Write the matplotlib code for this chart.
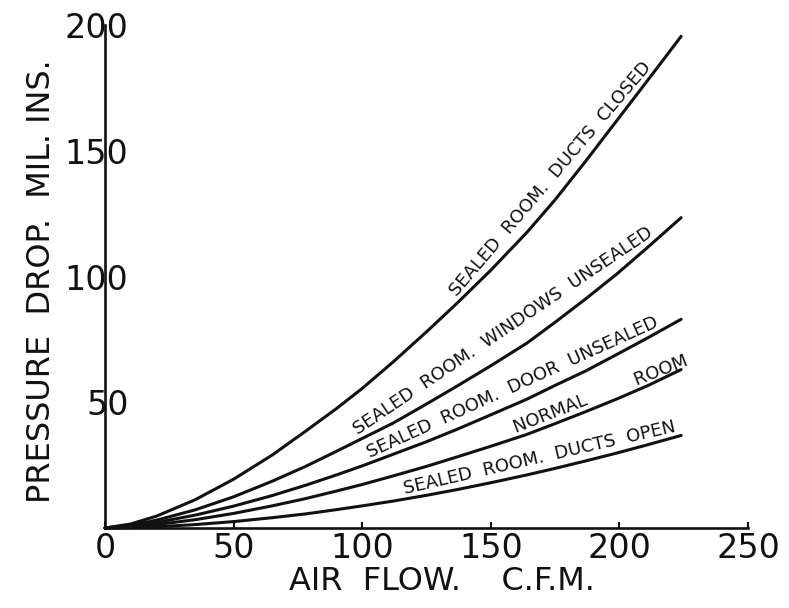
import numpy as np
import matplotlib
matplotlib.use("Agg")
import matplotlib.pyplot as plt

# ---- data ----
air_flow = [0, 10, 20, 35, 50, 65, 78, 90, 100, 112, 125, 137, 150, 164, 175, 187, 199, 211, 224]

y_ducts_closed = [0, 1.6, 4.7, 11.2, 19.4, 29, 38.5, 47.5, 55.5, 66, 78, 89.5, 102.5, 117.5, 130.5, 146, 162, 178, 195.5]
y_windows = [0, 1.1, 3.1, 7.2, 12.4, 18.6, 24.5, 30.5, 35.6, 41.7, 49.3, 56.5, 64.5, 73.5, 81.8, 91.2, 101, 111.6, 123.4]
y_door = [0, 0.8, 2.2, 5.1, 8.7, 12.9, 17, 21.1, 24.7, 29.3, 34.3, 39.3, 45, 51.2, 56.7, 62.5, 69, 75.6, 83]
y_normal = [0, 0.45, 1.35, 3.3, 5.8, 8.8, 11.7, 14.7, 17.3, 20.7, 24.5, 28.3, 32.5, 37.2, 41.5, 46.3, 51.3, 56.6, 63]
y_ducts_open = [0, 0.15, 0.5, 1.35, 2.55, 4.1, 5.6, 7.3, 8.8, 10.7, 13, 15.3, 18, 21.1, 23.7, 26.7, 29.8, 33.1, 36.8]

curve_labels = ["SEALED  ROOM.  DUCTS  CLOSED",
                "SEALED  ROOM.  WINDOWS  UNSEALED",
                "SEALED  ROOM.  DOOR  UNSEALED",
                "NORMAL         ROOM",
                "SEALED  ROOM.  DUCTS  OPEN"]

x_ticks = [0, 50, 100, 150, 200, 250]
x_tick_labels = ["0", "50", "100", "150", "200", "250"]
y_ticks = [50, 100, 150, 200]
y_tick_labels = ["50", "100", "150", "200"]

x_label = "AIR  FLOW.    C.F.M."
y_label = "PRESSURE  DROP.  MIL. INS."

# ---- figure ----
plt.rcParams['font.family'] = ['DejaVu Sans']
ink = "#111111"
fig = plt.figure(figsize=(7.89, 6.08), dpi=100)
ax = fig.add_axes([105/789, (608-528)/608, (748-105)/789, (528-25)/608])
ax.set_xlim(0, 250)
ax.set_ylim(0, 200)

for s in ["top", "right"]:
    ax.spines[s].set_visible(False)
for s in ["left", "bottom"]:
    ax.spines[s].set_linewidth(1.9)
    ax.spines[s].set_color(ink)

ax.set_xticks(x_ticks)
ax.set_xticklabels(x_tick_labels, fontsize=24)
ax.set_yticks(y_ticks)
ax.set_yticklabels(y_tick_labels, fontsize=24)
ax.tick_params(axis='x', direction='in', length=4, width=1.5, pad=3, colors=ink)
ax.tick_params(axis='y', length=0, pad=-17, colors=ink)

ax.set_xlabel(x_label, fontsize=23, color=ink)
ax.set_ylabel(y_label, fontsize=23, color=ink)
ax.xaxis.set_label_coords(0.524, -0.075)
ax.yaxis.set_label_coords(-0.075, 0.49)

series = [y_ducts_closed, y_windows, y_door, y_normal, y_ducts_open]

for ys in series:
    ax.plot(air_flow, ys, color=ink, lw=2.2, solid_capstyle='round',
            solid_joinstyle='round', clip_on=False)

# ---- labels written along the curves ----
label_centers = [176, 157, 160, 194, 170]
label_size = 13
offset_pts = 7
renderer = fig.canvas.get_renderer()
px_per_x = ax.transData.transform((1, 0))[0] - ax.transData.transform((0, 0))[0]


def disp(x, ys):
    return ax.transData.transform((x, np.interp(x, air_flow, ys)))


for ys, txt, xc in zip(series, curve_labels, label_centers):
    probe = ax.text(0, 0, txt, fontsize=label_size)
    width_px = probe.get_window_extent(renderer).width
    probe.remove()
    p1, p2 = disp(xc - 3, ys), disp(xc + 3, ys)
    ang = np.arctan2(p2[1] - p1[1], p2[0] - p1[0])
    for _ in range(4):
        h = 0.5 * width_px * np.cos(ang) / px_per_x
        p1, p2 = disp(xc - h, ys), disp(xc + h, ys)
        ang = np.arctan2(p2[1] - p1[1], p2[0] - p1[0])
    mid = ax.transData.inverted().transform((p1 + p2) / 2)
    nx, ny = -np.sin(ang), np.cos(ang)
    ax.annotate(txt, tuple(mid), xytext=(nx * offset_pts, ny * offset_pts),
                textcoords='offset points', rotation=np.degrees(ang),
                rotation_mode='anchor', ha='center', va='center',
                fontsize=label_size, color=ink)

fig.savefig("out.png", dpi=100)
